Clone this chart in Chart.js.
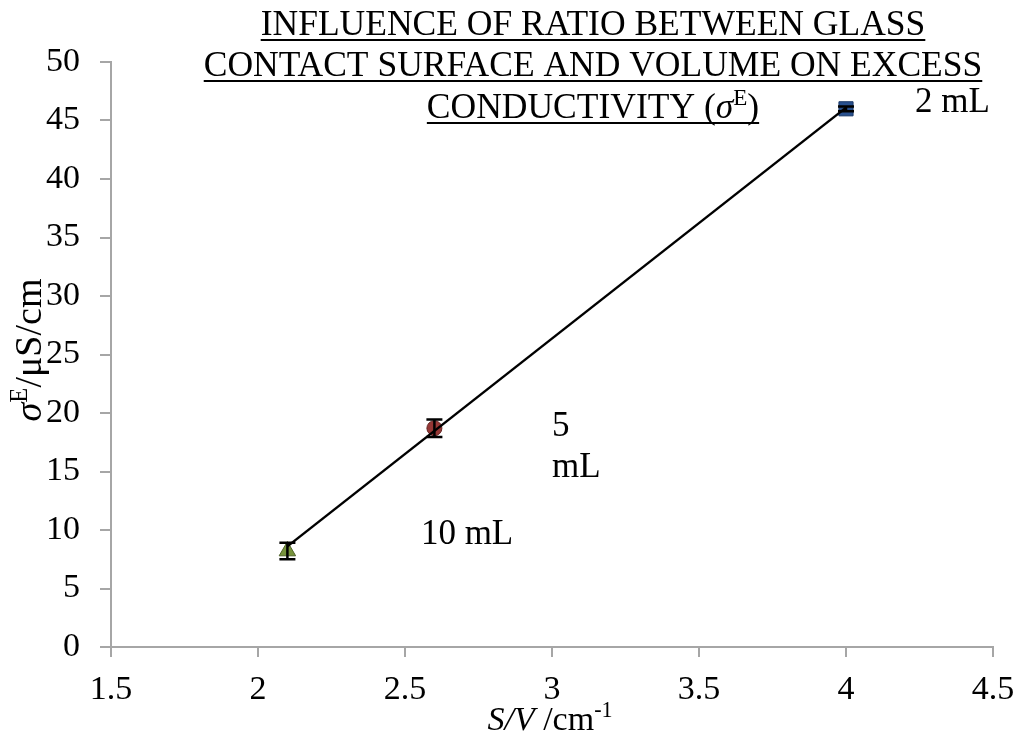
<!DOCTYPE html>
<html>
<head>
<meta charset="utf-8">
<script src="https://cdn.jsdelivr.net/npm/chart.js@4.4.0/dist/chart.umd.min.js"></script>
<style>
  html, body { margin: 0; padding: 0; background: #fff; }
  #wrap { width: 1024px; height: 738px; }
</style>
</head>
<body>
<div id="wrap"><canvas id="ratioChart"></canvas></div>
<script>
  // data
  const volumes = ['10 mL', '5 mL', '2 mL'];
  const ratioSV = [2.1, 2.6, 4.0];          // S/V, cm-1
  const excessCond = [8.2, 18.7, 46.0];     // sigma E, uS/cm
  const condErr = [0.7, 0.75, 0.2];
  const trendX = [2.1, 4.0];
  const trendY = [8.6, 46.1];
  const xTicks = [1.5, 2, 2.5, 3, 3.5, 4, 4.5];
  const yTicks = [0, 5, 10, 15, 20, 25, 30, 35, 40, 45, 50];

  // text labels next to the points (value units)
  const pointLabels = [
    { text: '10 mL', x: 2.554, y: 8.8 },
    { text: '5', x: 3.0, y: 18.0 },
    { text: 'mL', x: 3.0, y: 14.5 },
    { text: '2 mL', x: 4.235, y: 45.7 }
  ];

  const FONT = "'Liberation Serif', 'Times New Roman', serif";
  const AXIS_GREY = '#a6a6a6';

  // draw a row of text pieces (italic / superscript) centred on x
  function drawRuns(ctx, runs, x, y, size, underline) {
    const fontFor = r => (r.italic ? 'italic ' : '') + (r.sup ? size * 0.65 : size) + 'px ' + FONT;
    let total = 0;
    runs.forEach(r => { ctx.font = fontFor(r); total += ctx.measureText(r.text).width; });
    let cx = x - total / 2;
    ctx.textAlign = 'left';
    ctx.textBaseline = 'alphabetic';
    ctx.fillStyle = '#000';
    runs.forEach(r => {
      ctx.font = fontFor(r);
      ctx.fillText(r.text, cx, r.sup ? y - size * 0.38 : y);
      cx += ctx.measureText(r.text).width;
    });
    if (underline) {
      ctx.fillRect(x - total / 2, y + 4, total, 2);
    }
  }

  const extrasPlugin = {
    id: 'extras',
    afterDatasetsDraw(chart) {
      const ctx = chart.ctx;
      const xs = chart.scales.x, ys = chart.scales.y;
      ctx.save();
      // error bars
      ctx.strokeStyle = '#000';
      ctx.lineWidth = 2.5;
      ratioSV.forEach((v, i) => {
        const px = xs.getPixelForValue(v);
        const top = ys.getPixelForValue(excessCond[i] + condErr[i]);
        const bot = ys.getPixelForValue(excessCond[i] - condErr[i]);
        ctx.beginPath();
        ctx.moveTo(px, top); ctx.lineTo(px, bot);
        ctx.moveTo(px - 8, top); ctx.lineTo(px + 8, top);
        ctx.moveTo(px - 8, bot); ctx.lineTo(px + 8, bot);
        ctx.stroke();
      });
      // point labels
      ctx.fillStyle = '#000';
      ctx.font = '35px ' + FONT;
      ctx.textAlign = 'left';
      ctx.textBaseline = 'alphabetic';
      pointLabels.forEach(l => {
        ctx.fillText(l.text, xs.getPixelForValue(l.x), ys.getPixelForValue(l.y));
      });
      ctx.restore();
    },
    afterDraw(chart) {
      const ctx = chart.ctx;
      ctx.save();
      // title
      drawRuns(ctx, [{ text: 'INFLUENCE OF RATIO BETWEEN GLASS' }], 593, 35, 35.5, true);
      drawRuns(ctx, [{ text: 'CONTACT SURFACE AND VOLUME ON EXCESS' }], 593, 76, 35.5, true);
      drawRuns(ctx, [{ text: 'CONDUCTIVITY (' }, { text: 'σ', italic: true }, { text: 'E', sup: true }, { text: ')' }], 593, 118, 35.5, true);
      // x axis title
      drawRuns(ctx, [{ text: 'S/V', italic: true }, { text: ' /cm' }, { text: '-1', sup: true }], 550, 730, 34, false);
      // y axis title
      ctx.translate(41, 350);
      ctx.rotate(-Math.PI / 2);
      drawRuns(ctx, [{ text: 'σ', italic: true }, { text: 'E', sup: true }, { text: '/μS/cm' }], 0, 0, 38, false);
      ctx.restore();
    }
  };

  const pointData = ratioSV.map((v, i) => ({ x: v, y: excessCond[i] }));

  new Chart(document.getElementById('ratioChart'), {
    type: 'scatter',
    data: {
      datasets: [
        {
          label: 'trend',
          type: 'line',
          data: trendX.map((v, i) => ({ x: v, y: trendY[i] })),
          borderColor: '#000',
          borderWidth: 2.5,
          pointRadius: 0,
          fill: false,
          order: 0
        },
        {
          label: 'S/V',
          data: pointData,
          pointStyle: ['triangle', 'circle', 'rect'],
          pointRadius: [9.5, 7.5, 10],
          pointHoverRadius: [9.5, 7.5, 10],
          backgroundColor: ['#77933c', '#953735', '#28508e'],
          borderColor: ['#4f6228', '#632523', '#1c3a69'],
          borderWidth: 1,
          order: 1
        }
      ]
    },
    options: {
      responsive: true,
      maintainAspectRatio: false,
      animation: false,
      layout: { padding: { left: 0, top: 62, right: 31, bottom: 0 } },
      plugins: {
        legend: { display: false },
        tooltip: { enabled: false },
        title: { display: false }
      },
      scales: {
        x: {
          type: 'linear',
          min: 1.5,
          max: 4.5,
          afterBuildTicks: s => { s.ticks = xTicks.map(v => ({ value: v })); },
          afterFit: s => { s.height = 91; s.paddingLeft = 0; s.paddingRight = 0; },
          ticks: {
            color: '#000',
            font: { family: FONT, size: 34 },
            padding: 13,
            maxRotation: 0,
            minRotation: 0,
            callback: v => String(v)
          },
          grid: { drawOnChartArea: false, color: AXIS_GREY, lineWidth: 2, tickLength: 10 },
          border: { color: AXIS_GREY, width: 2 }
        },
        y: {
          min: 0,
          max: 50,
          afterBuildTicks: s => { s.ticks = yTicks.map(v => ({ value: v })); },
          afterFit: s => { s.width = 111; },
          ticks: {
            color: '#000',
            font: { family: FONT, size: 34 },
            padding: 20,
            callback: v => String(v)
          },
          grid: { drawOnChartArea: false, color: AXIS_GREY, lineWidth: 2, tickLength: 11 },
          border: { color: AXIS_GREY, width: 2 }
        }
      }
    },
    plugins: [extrasPlugin]
  });
</script>
</body>
</html>
